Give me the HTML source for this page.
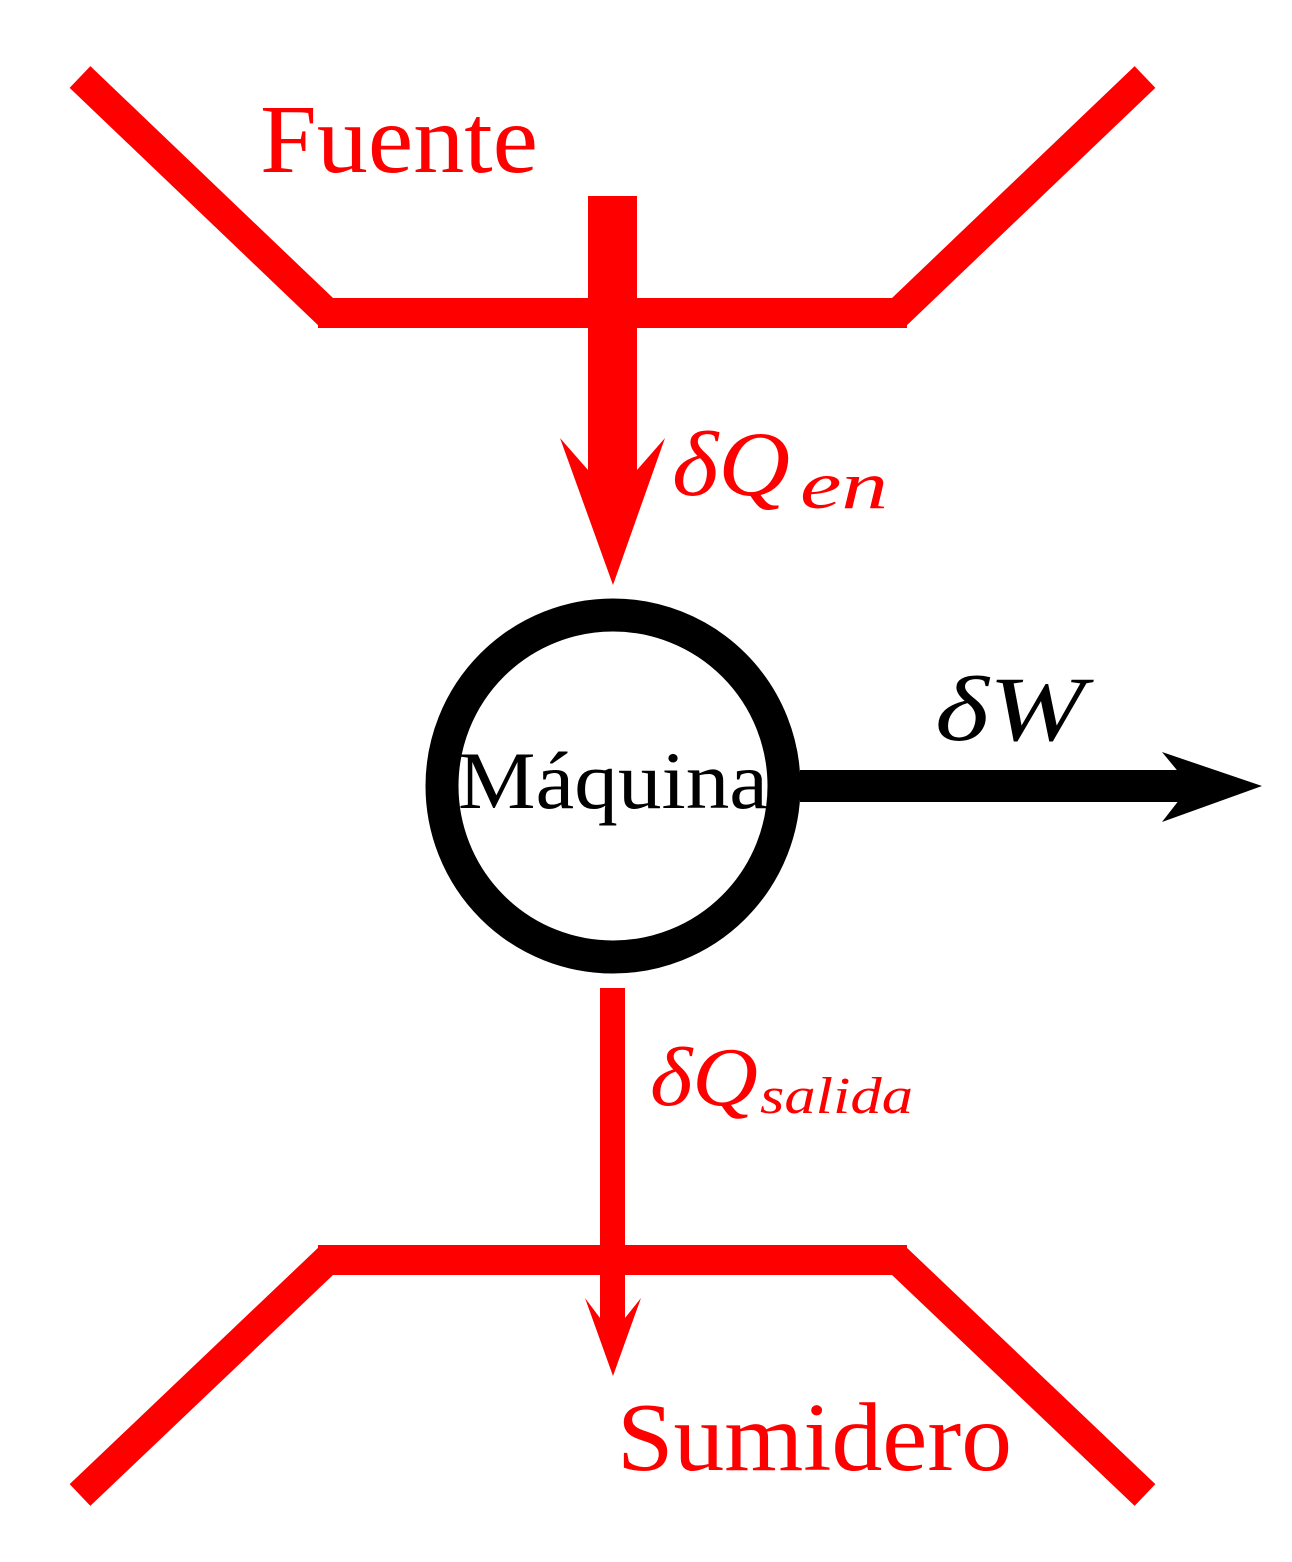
<!DOCTYPE html>
<html><head><style>body{margin:0;background:#fff}svg{display:block}</style></head><body>
<svg width="1292" height="1562" viewBox="0 0 1292 1562" xmlns="http://www.w3.org/2000/svg">
<g fill="none" stroke="#f00" stroke-width="30">
<polyline points="80,77 327,313 898,313 1145,77" stroke-linejoin="miter"/>
<polyline points="80,1495 327,1260 898,1260 1145,1495"/>
</g>
<g fill="#f00">
<rect x="318" y="298" width="10" height="30"/>
<rect x="897" y="298" width="10" height="30"/>
<rect x="318" y="1245" width="10" height="30"/>
<rect x="897" y="1245" width="10" height="30"/>
<rect x="588" y="196" width="49" height="275"/>
<polygon points="560,438 588,470 637,470 665,438 613,585"/>
<rect x="600" y="988" width="25" height="330"/>
<polygon points="585,1298 600,1318 625,1318 641,1298 613,1376"/>
</g>
<circle cx="613" cy="786" r="171" fill="none" stroke="#000" stroke-width="33"/>
<rect x="800" y="770" width="390" height="32" fill="#000"/>
<polygon points="1262,786 1162,752 1190,786 1162,822" fill="#000"/>
<g font-family="Liberation Serif, serif">
<text x="260" y="172" font-size="98" fill="#f00" textLength="278" lengthAdjust="spacingAndGlyphs">Fuente</text>
<text x="617" y="1470" font-size="98" fill="#f00" textLength="395" lengthAdjust="spacingAndGlyphs">Sumidero</text>
<text x="458" y="808" font-size="82" fill="#000" textLength="310" lengthAdjust="spacingAndGlyphs">Máquina</text>
<text x="672" y="495" font-size="92" fill="#f00" font-style="italic" textLength="118" lengthAdjust="spacingAndGlyphs">δQ</text>
<text x="800" y="508" font-size="68" fill="#f00" font-style="italic" textLength="88" lengthAdjust="spacingAndGlyphs">en</text>
<text x="935" y="740" font-size="92" fill="#000" font-style="italic" textLength="150" lengthAdjust="spacingAndGlyphs">δW</text>
<text x="650" y="1105" font-size="84" fill="#f00" font-style="italic" textLength="108" lengthAdjust="spacingAndGlyphs">δQ</text>
<text x="760" y="1113" font-size="52" fill="#f00" font-style="italic" textLength="153" lengthAdjust="spacingAndGlyphs">salida</text>
</g>
</svg>
</body></html>
